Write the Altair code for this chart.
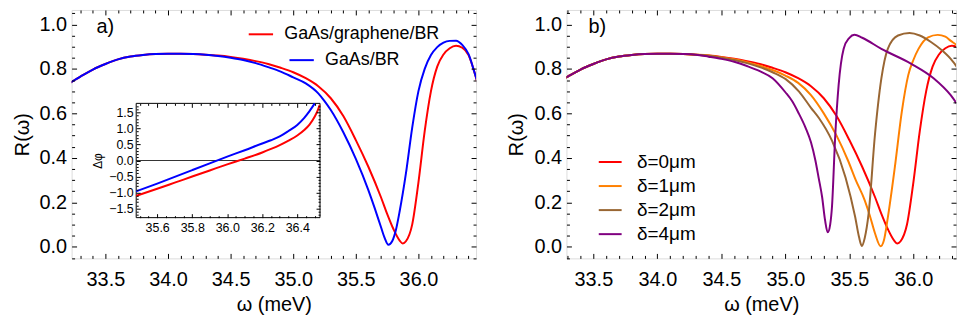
import altair as alt
import pandas as pd

FONT = "Liberation Sans"
RED, BLUE, ORANGE, BROWN, PURPLE = "#FF0000", "#0000FF", "#FF8000", "#996633", "#800080"

# ---------------- data ----------------
omega_shared = [33.2, 33.3, 33.4, 33.5, 33.6, 33.7, 33.8, 33.9, 34.0, 34.1, 34.2, 34.3]
R_shared = [0.731, 0.765, 0.797, 0.822, 0.843, 0.856, 0.863, 0.867, 0.868, 0.868, 0.867, 0.864]

omega_red = [34.4, 34.5, 34.6, 34.7, 34.8, 34.9, 35.0, 35.1, 35.2, 35.3, 35.4, 35.5, 35.6, 35.7,
             35.75, 35.8, 35.85, 35.875, 35.9, 35.95, 36.0, 36.05, 36.1, 36.15, 36.2, 36.25, 36.3,
             36.35, 36.4, 36.45, 36.5]
R_red = [0.860, 0.854, 0.846, 0.835, 0.822, 0.805, 0.785, 0.758, 0.722, 0.668, 0.588, 0.480, 0.360,
         0.224, 0.148, 0.080, 0.028, 0.015, 0.025, 0.100, 0.290, 0.520, 0.700, 0.810, 0.865, 0.893,
         0.904, 0.895, 0.862, 0.780, 0.670]

omega_blue = [34.4, 34.5, 34.6, 34.7, 34.8, 34.9, 35.0, 35.1, 35.2, 35.25, 35.3, 35.4, 35.5, 35.6,
              35.65, 35.7, 35.73, 35.76, 35.79, 35.82, 35.85, 35.9, 35.95, 36.0, 36.05, 36.1, 36.15,
              36.2, 36.25, 36.3, 36.35, 36.4, 36.45, 36.5]
R_blue = [0.858, 0.850, 0.840, 0.826, 0.808, 0.788, 0.762, 0.735, 0.690, 0.655, 0.615, 0.515, 0.395,
          0.255, 0.175, 0.090, 0.040, 0.009, 0.025, 0.076, 0.160, 0.330, 0.535, 0.700, 0.800, 0.862,
          0.898, 0.918, 0.926, 0.927, 0.908, 0.866, 0.780, 0.690]

omega_orange = [34.4, 34.5, 34.6, 34.7, 34.8, 34.9, 35.0, 35.1, 35.2, 35.3, 35.4, 35.49, 35.55, 35.62,
                35.66, 35.7, 35.744, 35.77, 35.8, 35.855, 35.91, 35.96, 36.0, 36.04, 36.115, 36.19,
                36.25, 36.29, 36.35, 36.4, 36.45]
R_orange = [0.860, 0.852, 0.843, 0.830, 0.814, 0.795, 0.770, 0.737, 0.682, 0.600, 0.500, 0.387, 0.300,
            0.209, 0.140, 0.061, 0.003, 0.030, 0.130, 0.357, 0.609, 0.772, 0.840, 0.890, 0.942, 0.953,
            0.945, 0.927, 0.900, 0.861, 0.800]

omega_brown = [34.4, 34.5, 34.6, 34.7, 34.8, 34.9, 35.0, 35.107, 35.2, 35.262, 35.365, 35.47, 35.545,
               35.575, 35.597, 35.62, 35.65, 35.7, 35.75, 35.8, 35.88, 35.97, 36.05, 36.14, 36.22,
               36.29, 36.35, 36.41, 36.45]
R_brown = [0.859, 0.850, 0.840, 0.826, 0.808, 0.785, 0.755, 0.698, 0.625, 0.579, 0.476, 0.312, 0.135,
           0.045, 0.004, 0.040, 0.148, 0.505, 0.757, 0.890, 0.950, 0.961, 0.950, 0.920, 0.885, 0.846,
           0.800, 0.735, 0.690]

omega_purple = [34.4, 34.5, 34.6, 34.7, 34.8, 34.9, 35.0, 35.055, 35.1, 35.158, 35.2, 35.235, 35.26,
                35.287, 35.31, 35.331, 35.35, 35.364, 35.39, 35.416, 35.455, 35.5, 35.54, 35.6, 35.75,
                35.98, 36.16, 36.29, 36.41, 36.45]
R_purple = [0.855, 0.845, 0.832, 0.813, 0.790, 0.758, 0.695, 0.653, 0.605, 0.535, 0.470, 0.387, 0.310,
            0.224, 0.120, 0.065, 0.100, 0.179, 0.505, 0.727, 0.890, 0.940, 0.954, 0.940, 0.890, 0.824,
            0.757, 0.683, 0.579, 0.540]

# inset: phase difference
dphi_omega_blue = [35.48, 35.6, 35.7, 35.8, 35.9, 36.0, 36.1, 36.2, 36.25, 36.3, 36.35, 36.4, 36.44,
                   36.47, 36.5]
dphi_blue = [-0.96, -0.72, -0.51, -0.30, -0.09, 0.12, 0.32, 0.53, 0.63, 0.75, 0.92, 1.11, 1.33, 1.54,
             1.78]
dphi_omega_red = [35.48, 35.6, 35.7, 35.8, 35.9, 36.0, 36.1, 36.2, 36.25, 36.3, 36.35, 36.4, 36.44,
                  36.47, 36.5, 36.515, 36.528]
dphi_red = [-1.10, -0.88, -0.69, -0.50, -0.31, -0.12, 0.06, 0.25, 0.36, 0.48, 0.62, 0.78, 0.95, 1.12,
            1.37, 1.54, 1.73]

series_a = ["GaAs/graphene/BR", "GaAs/BR"]
series_b = ["δ=0μm", "δ=1μm", "δ=2μm", "δ=4μm"]
panel_labels = ["a)", "b)"]

xa_domain = [33.23, 36.46]
xb_domain = [33.29, 36.333]
y_domain = [-0.052, 1.065]
inset_x_domain = [35.48, 36.53]
inset_y_domain = [-1.78, 1.78]

# ---------------- layout constants ----------------
WA, WB, H = 407, 392, 250
INSET_X_RANGE = [65, 250]
INSET_Y_RANGE = [209, 94]
MAJ, MIN = 5, 3


def rows(name, xs, ys, yname="R"):
    return [{"omega": x, yname: y, "series": name} for x, y in zip(xs, ys)]


df_red = pd.DataFrame(rows(series_a[0], omega_shared + omega_red, R_shared + R_red))
df_blue = pd.DataFrame(rows(series_a[1], omega_shared + omega_blue, R_shared + R_blue))
df_b = pd.DataFrame(rows(series_b[0], omega_shared + omega_red, R_shared + R_red) +
                    rows(series_b[1], omega_shared + omega_orange, R_shared + R_orange) +
                    rows(series_b[2], omega_shared + omega_brown, R_shared + R_brown) +
                    rows(series_b[3], omega_shared + omega_purple, R_shared + R_purple))
df_inset_red = pd.DataFrame(rows(series_a[0], dphi_omega_red, dphi_red, "phi"))
df_inset_blue = pd.DataFrame(rows(series_a[1], dphi_omega_blue, dphi_blue, "phi"))


def tick_values(lo, hi, step):
    vals = []
    k = int(lo / step) - 1
    while k * step <= hi + 1e-9:
        v = round(k * step, 3)
        if lo <= v <= hi:
            vals.append(v)
        k += 1
    return vals


def major_test(step):
    k = round(1 / step, 6)
    return f"abs(datum.value*{k} - round(datum.value*{k})) < 0.001"


def make_axis(orient, values, major_step, major_len, minor_len, labels=True,
              label_size=20, label_pad=12, title=None, title_size=20, title_pad=5, offset=0):
    test = major_test(major_step)
    kw = dict(orient=orient, values=values, domain=False, grid=False,
              tickSize={"expr": f"({test}) ? {-major_len} : {-minor_len}"},
              tickColor="black", tickWidth=1, offset=offset, zindex=1,
              minExtent=0, maxExtent=300)
    if labels:
        kw.update(labelExpr=f"({test}) ? format(datum.value, '.1f') : ''",
                  labelFont=FONT, labelFontSize={"expr": f"({test}) ? {label_size} : 0"},
                  labelColor="black", labelPadding=label_pad, labelOverlap=False, labelFlush=False)
    else:
        kw.update(labels=False)
    if title is not None:
        kw.update(title=title, titleFont=FONT, titleFontSize=title_size, titleFontWeight="normal",
                  titleColor="black", titlePadding=title_pad)
    else:
        kw.update(title=None)
    return alt.Axis(**kw)


def line_layer(df, yfield, xs, ys, cscale, legend, xaxis, yaxis, sort, clip=True):
    return alt.Chart(df).mark_line(strokeWidth=2, clip=clip, interpolate="monotone").encode(
        x=alt.X("omega:Q", scale=xs, axis=xaxis),
        y=alt.Y(f"{yfield}:Q", scale=ys, axis=yaxis),
        color=alt.Color("series:N", scale=cscale, legend=legend, sort=sort),
        detail="series:N",
    )


def frame_parts(df, x_domain, label_text, label_x):
    xs = alt.Scale(domain=x_domain, nice=False, zero=False)
    ys = alt.Scale(domain=y_domain, nice=False, zero=False)
    xvals = tick_values(x_domain[0], x_domain[1], 0.1)
    yvals = tick_values(y_domain[0], y_domain[1], 0.05)
    xaxis = make_axis("bottom", xvals, 0.5, MAJ, MIN, label_pad=16.5, title="ω (meV)", title_pad=5)
    yaxis = make_axis("left", yvals, 0.2, MAJ, MIN, label_pad=10, title="R(ω)", title_pad=7)
    frame = alt.Chart(df).mark_line(strokeOpacity=0, clip=True).encode(
        x=alt.X("omega:Q", scale=xs, axis=make_axis("top", xvals, 0.5, MAJ, MIN, labels=False)),
        y=alt.Y("R:Q", scale=ys, axis=make_axis("right", yvals, 0.2, MAJ, MIN, labels=False)),
        detail="series:N",
    )
    txt = alt.Chart(pd.DataFrame({"t": [label_text]})).mark_text(
        font=FONT, fontSize=20, align="center", baseline="middle", color="black"
    ).encode(x=alt.value(label_x), y=alt.value(17), text="t:N")
    return xs, ys, xaxis, yaxis, frame, txt


def stroke_legend(x, y, size, fsize, offset, row_pad=0):
    return alt.Legend(orient="none", legendX=x, legendY=y, title=None, symbolType="stroke",
                      symbolSize=size, symbolStrokeWidth=2, labelFont=FONT, labelFontSize=fsize,
                      labelColor="black", labelOffset=offset, rowPadding=row_pad, padding=0)


# ---------------- panel a ----------------
xs_a, ys_a, xaxis_a, yaxis_a, frame_a, txt_a = frame_parts(df_red, xa_domain, panel_labels[0], 34)
cs_red = alt.Scale(domain=[series_a[0]], range=[RED])
cs_blue = alt.Scale(domain=[series_a[1]], range=[BLUE])
red_main = line_layer(df_red, "R", xs_a, ys_a, cs_red, stroke_legend(177, 11, 600, 18, 10),
                      xaxis_a, yaxis_a, [series_a[0]])
blue_main = line_layer(df_blue, "R", xs_a, ys_a, cs_blue, stroke_legend(218, 37, 600, 18, 10),
                       None, None, [series_a[1]])

ixs = alt.Scale(domain=inset_x_domain, range=INSET_X_RANGE, nice=False, zero=False)
iys = alt.Scale(domain=inset_y_domain, range=INSET_Y_RANGE, nice=False, zero=False)
ix_vals = tick_values(inset_x_domain[0], inset_x_domain[1], 0.05)
iy_vals = tick_values(inset_y_domain[0], inset_y_domain[1], 0.1)

box_df = pd.DataFrame({"x0": [inset_x_domain[0]], "x1": [inset_x_domain[1]],
                       "y0": [inset_y_domain[0]], "y1": [inset_y_domain[1]]})
inset_box = alt.Chart(box_df).mark_rect(fill="white", stroke="black", strokeWidth=1).encode(
    x=alt.X("x0:Q", scale=ixs, axis=None), x2="x1:Q",
    y=alt.Y("y0:Q", scale=iys, axis=None), y2="y1:Q",
)
zero_df = pd.DataFrame({"y": [0.0], "x0": [inset_x_domain[0]], "x1": [inset_x_domain[1]]})
inset_zero = alt.Chart(zero_df).mark_rule(color="black", strokeWidth=0.8).encode(
    x=alt.X("x0:Q", scale=ixs, axis=None), x2="x1:Q",
    y=alt.Y("y:Q", scale=iys, axis=None),
)
inset_xaxis = make_axis("bottom", ix_vals, 0.2, 4, 2, label_size=12.5, label_pad=8,
                        offset=-(H - INSET_Y_RANGE[0]))
inset_yaxis = make_axis("left", iy_vals, 0.5, 4, 2, label_size=12.5, label_pad=7, title="Δφ",
                        title_size=12, title_pad=4, offset=-INSET_X_RANGE[0])
red_inset = line_layer(df_inset_red, "phi", ixs, iys, cs_red, None, inset_xaxis, inset_yaxis,
                       [series_a[0]], clip=False)
blue_inset = line_layer(df_inset_blue, "phi", ixs, iys, cs_blue, None, None, None,
                        [series_a[1]], clip=False)
inset_frame = alt.Chart(df_inset_red).mark_line(strokeOpacity=0).encode(
    x=alt.X("omega:Q", scale=ixs,
            axis=make_axis("top", ix_vals, 0.2, 4, 2, labels=False, offset=-INSET_Y_RANGE[1])),
    y=alt.Y("phi:Q", scale=iys,
            axis=make_axis("right", iy_vals, 0.5, 4, 2, labels=False,
                           offset=-(WA - INSET_X_RANGE[1]))),
    detail="series:N",
)

panel_a = alt.layer(red_main, blue_main, frame_a, inset_box, inset_zero, red_inset, blue_inset,
                    inset_frame, txt_a).resolve_scale(
    x="independent", y="independent", color="independent").properties(width=WA, height=H)

# ---------------- panel b ----------------
xs_b, ys_b, xaxis_b, yaxis_b, frame_b, txt_b = frame_parts(df_b, xb_domain, panel_labels[1], 31)
cs_b = alt.Scale(domain=series_b, range=[RED, ORANGE, BROWN, PURPLE])
lines_b = line_layer(df_b, "R", xs_b, ys_b, cs_b, stroke_legend(31, 140, 530, 19, 14, 1.2),
                     xaxis_b, yaxis_b, series_b)
panel_b = alt.layer(lines_b, frame_b, txt_b).resolve_scale(
    x="independent", y="independent").properties(width=WB, height=H)

chart = alt.hconcat(panel_a, panel_b, spacing=29).resolve_scale(color="independent").properties(
    padding={"left": 3, "top": 0, "right": 0, "bottom": 0}
).configure_view(stroke="black", strokeWidth=1).configure(font=FONT)

chart.save("out.html", embed_options={"renderer": "svg", "actions": False})
